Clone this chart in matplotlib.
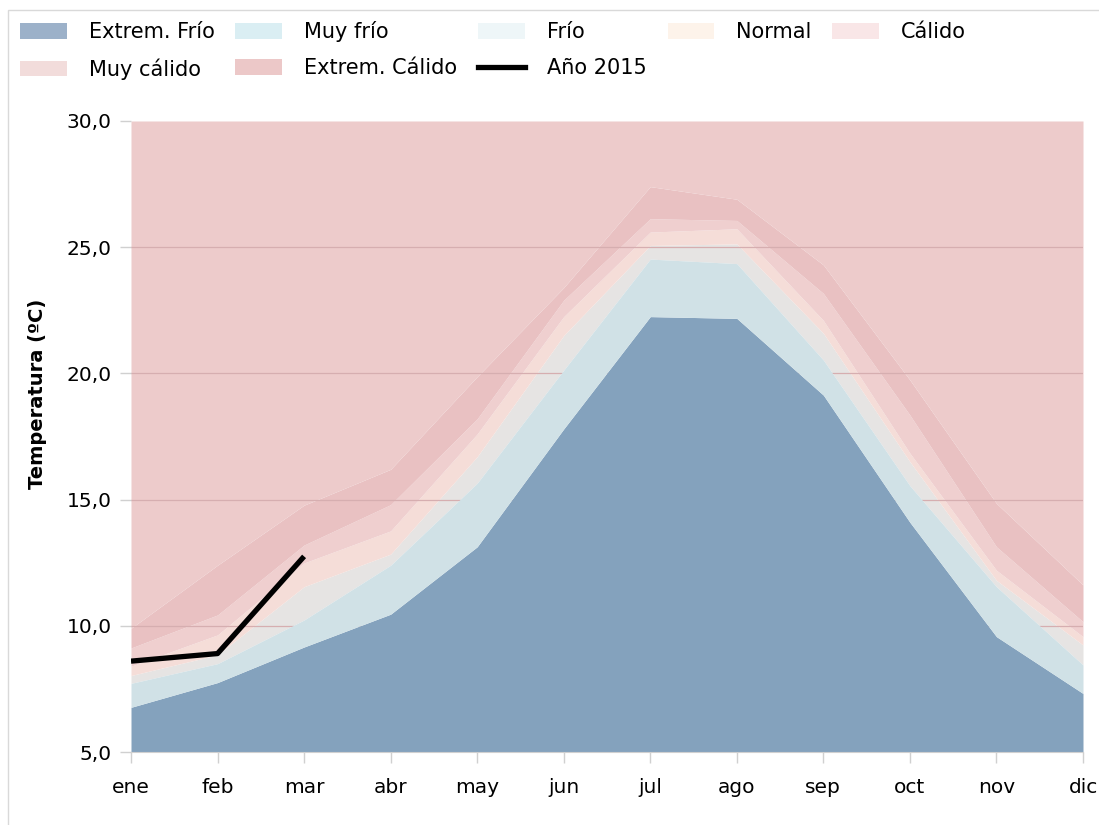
import matplotlib
matplotlib.use("Agg")
import matplotlib.pyplot as plt
from matplotlib.patches import Patch, Rectangle
from matplotlib.lines import Line2D

months = ["ene", "feb", "mar", "abr", "may", "jun", "jul", "ago", "sep", "oct", "nov", "dic"]

# upper limit (ºC) of each class, per month
extrem_frio = [6.77, 7.75, 9.16, 10.46, 13.13, 17.8, 22.25, 22.18, 19.14, 14.1, 9.57, 7.32]
muy_frio = [7.72, 8.5, 10.23, 12.4, 15.65, 20.13, 24.53, 24.35, 20.53, 15.55, 11.55, 8.45]
frio = [8.03, 8.85, 11.55, 12.84, 16.7, 21.5, 25.07, 25.13, 21.59, 16.5, 11.8, 9.24]
normal = [8.4, 9.64, 12.49, 13.76, 17.6, 22.25, 25.6, 25.73, 22.1, 16.84, 12.2, 9.57]
calido = [9.12, 10.43, 13.2, 14.8, 18.2, 22.9, 26.13, 26.06, 23.17, 18.35, 13.13, 10.16]
muy_calido = [9.9, 12.4, 14.78, 16.2, 19.87, 23.4, 27.4, 26.9, 24.3, 19.74, 14.85, 11.62]
extrem_calido = [30.0] * 12
anio_2015 = [8.6, 8.9, 12.75]

labels = ["Extrem. Frío", "Muy frío", "Frío", "Normal", "Cálido", "Muy cálido", "Extrem. Cálido"]
series = [extrem_frio, muy_frio, frio, normal, calido, muy_calido, extrem_calido]
area_colors = ["#84a2bd", "#d0e1e6", "#e6e4e3", "#f5ddd8", "#efcfcf", "#e9c1c2", "#edcbcb"]
legend_colors = ["#9cb1c9", "#daeef3", "#eef6f8", "#fdf3ea", "#f9e6e7", "#f2dcdb", "#ecc8c8"]

fig = plt.figure(figsize=(10.99, 8.25), dpi=100)
ax = fig.add_axes([131 / 1099, 1 - 752 / 825, (1083 - 131) / 1099, (752 - 121) / 825])

x = list(range(len(months)))
ymin = 5.0
lower = [ymin] * len(months)
for i, (s, col) in enumerate(zip(series, area_colors)):
    z = 2 if i < 2 else 1
    ax.fill_between(x, lower, s, color=col, linewidth=0, zorder=z)
    lower = s

for g in [10, 15, 20, 25]:
    ax.axhline(g, color="#d6aeb0", lw=0.9, zorder=1.5)

ax.plot(x[:len(anio_2015)], anio_2015, color="black", lw=3.8, zorder=5, solid_capstyle="butt")

ax.set_xlim(0, 11)
ax.set_ylim(5, 30)
ax.set_yticks([5, 10, 15, 20, 25, 30])
ax.set_yticklabels([f"{v:.1f}".replace(".", ",") for v in [5, 10, 15, 20, 25, 30]])
ax.set_xticks(x)
ax.set_xticklabels(months)
ax.tick_params(axis="both", labelsize=14.5, colors="#d0d0d0", labelcolor="black", length=8, width=1)
ax.tick_params(axis="x", pad=11)
ax.tick_params(axis="y", pad=6)
for sp in ["top", "right", "left"]:
    ax.spines[sp].set_visible(False)
ax.spines["bottom"].set_color("#d0d0d0")
ax.spines["bottom"].set_zorder(6)

fig.text(38 / 1099, 1 - 394 / 825, "Temperatura (ºC)", rotation=90, ha="center", va="center",
         fontsize=14, fontweight="bold")

# outer chart border
fig.patches.append(Rectangle((8 / 1099, -0.05), 1.2, 1 - 10 / 825 + 0.05, transform=fig.transFigure,
                             fill=False, edgecolor="#d9d9d9", lw=1))

h = [Patch(facecolor=c, edgecolor="none") for c in legend_colors]
line_h = Line2D([], [], color="black", lw=3.8)
handles = [h[0], h[5], h[1], h[6], h[2], line_h, h[3], h[4]]
labs = [labels[0], labels[5], labels[1], labels[6], labels[2], "Año 2015", labels[3], labels[4]]
fig.legend(handles, labs, ncol=5, loc="upper left", bbox_to_anchor=(20 / 1099, 1 - 21 / 825),
           frameon=False, fontsize=15, handlelength=2.25, handleheight=0.78, handletextpad=1.05,
           columnspacing=1.0, labelspacing=0.78, borderpad=0, borderaxespad=0)

fig.savefig("out.png", dpi=100)
